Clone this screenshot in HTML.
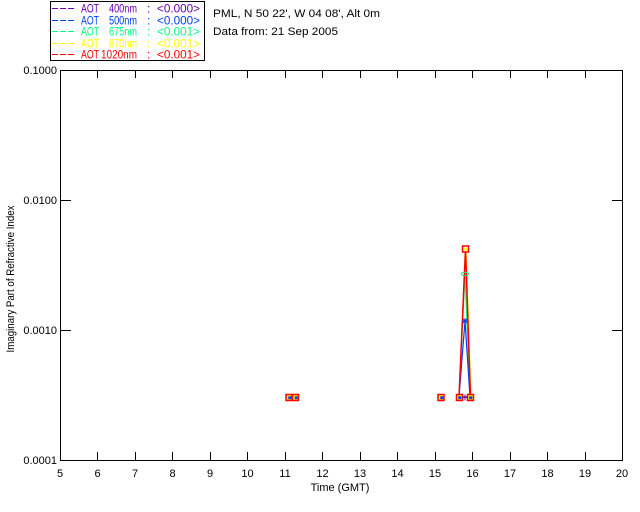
<!DOCTYPE html>
<html><head><meta charset="utf-8"><style>
html,body{margin:0;padding:0;background:#fff;}
svg{display:block;}
text{font-family:"Liberation Sans",sans-serif;font-size:11px;}
text.lg{font-size:12px;}
</style></head><body>
<svg width="640" height="512" viewBox="0 0 640 512" xmlns="http://www.w3.org/2000/svg">
<rect width="640" height="512" fill="#fff"/>
<!-- legend box -->
<rect x="50.5" y="1.5" width="154" height="59" fill="#fff" stroke="#000" stroke-width="1" shape-rendering="crispEdges"/>
<g stroke-width="1" stroke-dasharray="6,2" shape-rendering="crispEdges">
<line x1="52" y1="8.5" x2="74" y2="8.5" stroke="#6a00b0"/>
<line x1="52" y1="20.5" x2="74" y2="20.5" stroke="#0040ff"/>
<line x1="52" y1="31.5" x2="74" y2="31.5" stroke="#00ff80"/>
<line x1="52" y1="43.5" x2="74" y2="43.5" stroke="#ffff00"/>
<line x1="52" y1="54.5" x2="74" y2="54.5" stroke="#ff0000"/>
</g>
<g>
<g fill="#6a00b0"><text class="lg" x="81" y="12.5" textLength="18" lengthAdjust="spacingAndGlyphs">AOT</text><text class="lg" x="109" y="12.5" textLength="28" lengthAdjust="spacingAndGlyphs">400nm</text><text class="lg" x="147" y="12.5">:</text><text class="lg" x="157" y="12.5" textLength="43" lengthAdjust="spacingAndGlyphs">&lt;0.000&gt;</text></g>
<g fill="#0040ff"><text class="lg" x="81" y="24.5" textLength="18" lengthAdjust="spacingAndGlyphs">AOT</text><text class="lg" x="109" y="24.5" textLength="28" lengthAdjust="spacingAndGlyphs">500nm</text><text class="lg" x="147" y="24.5">:</text><text class="lg" x="157" y="24.5" textLength="43" lengthAdjust="spacingAndGlyphs">&lt;0.000&gt;</text></g>
<g fill="#00ff80"><text class="lg" x="81" y="35.5" textLength="18" lengthAdjust="spacingAndGlyphs">AOT</text><text class="lg" x="109" y="35.5" textLength="28" lengthAdjust="spacingAndGlyphs">675nm</text><text class="lg" x="147" y="35.5">:</text><text class="lg" x="157" y="35.5" textLength="43" lengthAdjust="spacingAndGlyphs">&lt;0.001&gt;</text></g>
<g fill="#ffff00"><text class="lg" x="81" y="47.5" textLength="18" lengthAdjust="spacingAndGlyphs">AOT</text><text class="lg" x="109" y="47.5" textLength="28" lengthAdjust="spacingAndGlyphs">870nm</text><text class="lg" x="147" y="47.5">:</text><text class="lg" x="157" y="47.5" textLength="43" lengthAdjust="spacingAndGlyphs">&lt;0.001&gt;</text></g>
<g fill="#ff0000"><text class="lg" x="81" y="58.5" textLength="18" lengthAdjust="spacingAndGlyphs">AOT</text><text class="lg" x="101" y="58.5" textLength="36" lengthAdjust="spacingAndGlyphs">1020nm</text><text class="lg" x="147" y="58.5">:</text><text class="lg" x="157" y="58.5" textLength="43" lengthAdjust="spacingAndGlyphs">&lt;0.001&gt;</text></g>
</g>
<text x="213" y="17" fill="#000" textLength="167" lengthAdjust="spacingAndGlyphs">PML, N 50 22', W 04 08', Alt 0m</text>
<text x="213" y="35" fill="#000" textLength="125" lengthAdjust="spacingAndGlyphs">Data from: 21 Sep 2005</text>

<!-- axes -->
<g stroke="#000" stroke-width="1" shape-rendering="crispEdges" fill="none">
<rect x="60.5" y="70.5" width="562" height="390"/>
<line x1="60" y1="200.5" x2="71" y2="200.5"/>
<line x1="60" y1="330.5" x2="71" y2="330.5"/>
<line x1="612" y1="200.5" x2="622" y2="200.5"/>
<line x1="612" y1="330.5" x2="622" y2="330.5"/>
<line x1="97.5" y1="460" x2="97.5" y2="452"/>
<line x1="135.5" y1="460" x2="135.5" y2="452"/>
<line x1="172.5" y1="460" x2="172.5" y2="452"/>
<line x1="210.5" y1="460" x2="210.5" y2="452"/>
<line x1="247.5" y1="460" x2="247.5" y2="452"/>
<line x1="285.5" y1="460" x2="285.5" y2="452"/>
<line x1="322.5" y1="460" x2="322.5" y2="452"/>
<line x1="360.5" y1="460" x2="360.5" y2="452"/>
<line x1="397.5" y1="460" x2="397.5" y2="452"/>
<line x1="435.5" y1="460" x2="435.5" y2="452"/>
<line x1="472.5" y1="460" x2="472.5" y2="452"/>
<line x1="510.5" y1="460" x2="510.5" y2="452"/>
<line x1="547.5" y1="460" x2="547.5" y2="452"/>
<line x1="585.5" y1="460" x2="585.5" y2="452"/>
<line x1="97.5" y1="70" x2="97.5" y2="78"/>
<line x1="135.5" y1="70" x2="135.5" y2="78"/>
<line x1="172.5" y1="70" x2="172.5" y2="78"/>
<line x1="210.5" y1="70" x2="210.5" y2="78"/>
<line x1="247.5" y1="70" x2="247.5" y2="78"/>
<line x1="285.5" y1="70" x2="285.5" y2="78"/>
<line x1="322.5" y1="70" x2="322.5" y2="78"/>
<line x1="360.5" y1="70" x2="360.5" y2="78"/>
<line x1="397.5" y1="70" x2="397.5" y2="78"/>
<line x1="435.5" y1="70" x2="435.5" y2="78"/>
<line x1="472.5" y1="70" x2="472.5" y2="78"/>
<line x1="510.5" y1="70" x2="510.5" y2="78"/>
<line x1="547.5" y1="70" x2="547.5" y2="78"/>
<line x1="585.5" y1="70" x2="585.5" y2="78"/>
</g>
<g fill="#000" text-anchor="end">
<text x="57" y="74">0.1000</text>
<text x="57" y="204">0.0100</text>
<text x="57" y="334">0.0010</text>
<text x="57" y="464">0.0001</text>
</g>
<g fill="#000" text-anchor="middle">
<text x="60" y="477">5</text>
<text x="97.5" y="477">6</text>
<text x="135" y="477">7</text>
<text x="172.5" y="477">8</text>
<text x="210" y="477">9</text>
<text x="247.5" y="477">10</text>
<text x="285" y="477">11</text>
<text x="322.5" y="477">12</text>
<text x="360" y="477">13</text>
<text x="397.5" y="477">14</text>
<text x="435" y="477">15</text>
<text x="472.5" y="477">16</text>
<text x="510" y="477">17</text>
<text x="547.5" y="477">18</text>
<text x="585" y="477">19</text>
<text x="622" y="477">20</text>
</g>
<text x="340" y="491" fill="#000" text-anchor="middle">Time (GMT)</text>
<text transform="translate(14,279) rotate(-90)" fill="#000" text-anchor="middle" textLength="147" lengthAdjust="spacingAndGlyphs">Imaginary Part of Refractive Index</text>

<!-- data lines -->
<g fill="none" stroke-width="1.2">
<polyline points="459,397 466,249 471,397" stroke="#ffff00"/>
<polyline points="459,397 465,274 470,397" stroke="#00ff80"/>
<polyline points="459,397 465,321 470,397" stroke="#0040ff"/>
<polyline points="459,397 465,397 471,397" stroke="#6a00b0"/>
<polyline points="459,397 465.5,249 470.5,397" stroke="#ff0000" stroke-width="1.5"/>
</g>
<g stroke-width="1.5" fill="none">
<rect x="286" y="394.5" width="6" height="6" fill="#ffff00" stroke="#ff0000"/>
<rect x="289" y="397" width="1.5" height="1.5" fill="#0040ff" stroke="#0040ff"/>
<rect x="292.5" y="394.5" width="6" height="6" fill="#ffff00" stroke="#ff0000"/>
<rect x="295.5" y="397" width="1.5" height="1.5" fill="#0040ff" stroke="#0040ff"/>
<rect x="438" y="394.5" width="6" height="6" fill="#ffff00" stroke="#ff0000"/>
<rect x="441" y="397" width="1.5" height="1.5" fill="#0040ff" stroke="#0040ff"/>
<rect x="456.5" y="394.5" width="6" height="6" fill="#ffff00" stroke="#ff0000"/>
<rect x="459" y="397" width="1.5" height="1.5" fill="#0040ff" stroke="#0040ff"/>
<rect x="467.5" y="394.5" width="6" height="6" fill="#ffff00" stroke="#ff0000"/>
<rect x="470" y="397" width="1.5" height="1.5" fill="#0040ff" stroke="#0040ff"/>
<rect x="462.5" y="246" width="6" height="6" fill="#fff" stroke="#ff0000"/>
<rect x="465" y="248.5" width="1.2" height="1.2" fill="#ffff00" stroke="#ffff00"/>
<ellipse cx="465" cy="274" rx="3.5" ry="1.8" stroke="#00ff80" stroke-width="1"/>
<g stroke="#0040ff" stroke-width="1">
<line x1="462" y1="321" x2="468" y2="321"/>
<line x1="465" y1="318" x2="465" y2="324"/>
<line x1="463" y1="319" x2="467" y2="323"/>
<line x1="467" y1="319" x2="463" y2="323"/>
</g>
<g stroke="#6a00b0" stroke-width="1">
<line x1="462" y1="397.5" x2="468" y2="397.5"/>
<line x1="465" y1="394.5" x2="465" y2="400.5"/>
</g>
</g>
</svg>
</body></html>
